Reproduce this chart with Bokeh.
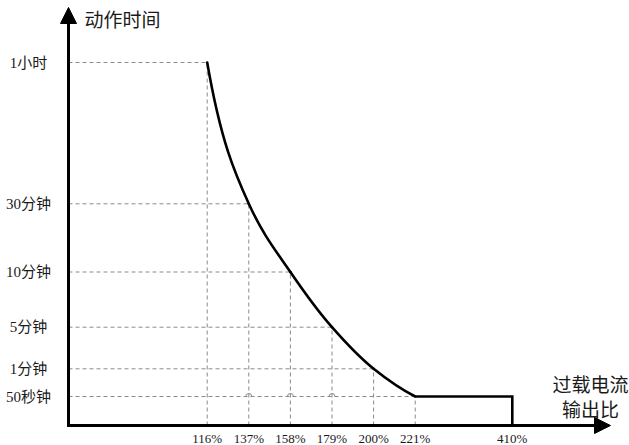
import numpy as np
from bokeh.plotting import figure
from bokeh.models import Range1d, Arrow, NormalHead, ColumnDataSource
from bokeh.embed import file_html
from bokeh.resources import INLINE
from bokeh.core.properties import value

# ---------------- data ----------------
x_labels = ["116%", "137%", "158%", "179%", "200%", "221%", "410%"]
overload_pct = [116, 137, 158, 179, 200, 221, 410]
time_labels = ["1小时", "30分钟", "10分钟", "5分钟", "1分钟", "50秒钟"]
time_seconds = [3600, 1800, 600, 300, 60, 50]
# protection curve: overload ratio -> action time (seconds)
curve_pct = [116, 137, 158, 179, 200, 221]
curve_seconds = [3600, 1800, 600, 300, 60, 50]
flat_end_pct = 410
hop_pct = [137, 158, 179]

# ---------------- schematic axis scales (layout) ----------------
PX_PER_PCT = 1.981
X_BREAK = 221.0
X_COMPRESS = 0.2593
# schematic (non-linear) time axis: level of each tick above the x axis (px)
Y_TICK_LEVELS = [363.0, 221.7, 153.5, 98.3, 56.7, 29.0]
_lvl = dict(zip(time_seconds, Y_TICK_LEVELS))


def xmap(v):
    v = np.asarray(v, dtype=float)
    return np.where(v <= X_BREAK, v, X_BREAK + (v - X_BREAK) * X_COMPRESS)


def ymap(s):
    return np.array([_lvl[t] for t in np.atleast_1d(s)], dtype=float)


def px2x(px):
    return 116 + (px - 206.7) / PX_PER_PCT


W, H = 629, 445
X0 = px2x(68)                      # x position of the vertical axis
X_START, X_END = px2x(0), px2x(W)
Y_START, Y_END = -20.0, 425.0

FONT_TICK = "Liberation Serif, Noto Sans CJK SC"
FONT_CJK = "Noto Sans CJK SC"
GRAY = "#8a8a8a"
INK = "#1a1a1a"

p = figure(width=W, height=H, output_backend="svg", toolbar_location=None,
           x_range=Range1d(X_START, X_END), y_range=Range1d(Y_START, Y_END),
           min_border=0, min_border_left=0, min_border_right=0,
           min_border_top=0, min_border_bottom=0)
p.axis.visible = False
p.grid.visible = False
p.outline_line_color = None
p.background_fill_color = "white"
p.border_fill_color = "white"

cx = xmap(curve_pct)
cy = ymap(curve_seconds)

# dashed guide lines
p.segment(x0=np.full(len(cx), X0), y0=cy, x1=cx, y1=cy,
          line_color=GRAY, line_width=1, line_dash="4 3")
p.segment(x0=cx, y0=np.zeros(len(cx)), x1=cx, y1=cy,
          line_color=GRAY, line_width=1, line_dash="4 3")
# line-jump hops where the 50 s guide crosses verticals
p.arc(x=xmap(hop_pct), y=np.full(len(hop_pct), ymap([50])[0]), radius=3,
      radius_units="screen", start_angle=0, end_angle=np.pi,
      line_color=GRAY, line_width=1)

# smooth monotone curve (harmonic-mean tangents -> cubic Bezier)
h = np.diff(cx)
d = np.diff(cy) / h
m = np.zeros(len(cx))
m[1:-1] = 2.0 / (1.0 / d[:-1] + 1.0 / d[1:])
m[0] = 3 * d[0] - 2 * m[1]
m[-1] = ((2 * h[-1] + h[-2]) * d[-1] - h[-1] * d[-2]) / (h[-1] + h[-2])
p.bezier(x0=cx[:-1], y0=cy[:-1], x1=cx[1:], y1=cy[1:],
         cx0=cx[:-1] + h / 3, cy0=cy[:-1] + m[:-1] * h / 3,
         cx1=cx[1:] - h / 3, cy1=cy[1:] - m[1:] * h / 3,
         line_color="black", line_width=2.6, line_cap="round")
fx = float(xmap([flat_end_pct])[0])
p.line(x=[cx[-1], fx, fx], y=[cy[-1], cy[-1], 0], line_color="black",
       line_width=2.6, line_join="miter")

# axes with arrows
p.add_layout(Arrow(x_start=X0, y_start=-1.5, x_end=X0, y_end=418,
                   line_width=3, line_color="black",
                   end=NormalHead(size=16, fill_color="black", line_color="black")))
p.add_layout(Arrow(x_start=X0 - 1.5 / PX_PER_PCT, y_start=0,
                   x_end=px2x(610), y_end=0,
                   line_width=3, line_color="black",
                   end=NormalHead(size=16, fill_color="black", line_color="black")))

# tick labels
ysrc = ColumnDataSource(dict(x=np.full(len(time_labels), px2x(28)),
                             y=ymap(time_seconds), t=time_labels))
p.text(x="x", y="y", text="t", source=ysrc, text_align="center",
       text_baseline="middle", text_font=value(FONT_TICK),
       text_font_size="15px", text_color=INK)
xsrc = ColumnDataSource(dict(x=xmap(overload_pct), y=np.full(len(x_labels), -12.5),
                             t=x_labels))
p.text(x="x", y="y", text="t", source=xsrc, text_align="center",
       text_baseline="middle", text_font=value(FONT_TICK),
       text_font_size="13px", text_color=INK)

# axis titles
p.text(x=[px2x(84)], y=[407], text=["动作时间"],
       text_align="left", text_baseline="middle", text_font=value(FONT_CJK),
       text_font_size="19px", text_color=INK)
p.text(x=[px2x(590)] * 2, y=[42.5, 17.5],
       text=["过载电流", "输出比"], text_align="center", text_baseline="middle",
       text_font=value(FONT_CJK), text_font_size="19px", text_color=INK)

open("out.html", "w").write(file_html(p, INLINE))
